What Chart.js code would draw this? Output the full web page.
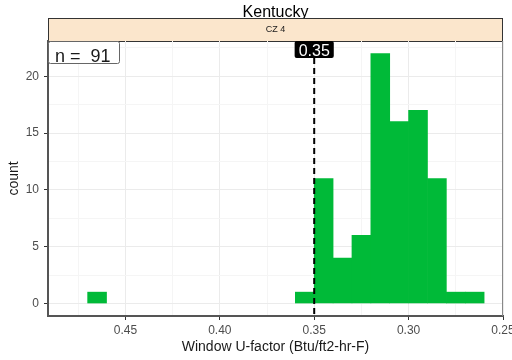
<!DOCTYPE html>
<html>
<head>
<meta charset="utf-8">
<script src="https://cdn.jsdelivr.net/npm/chart.js@4.4.1/dist/chart.umd.min.js"></script>
<style>
  body { margin: 0; background: #fff; }
</style>
</head>
<body>
<canvas id="chart" width="512" height="360"></canvas>
<script>
// histogram bins (centre of each 0.01 wide bin) and counts
const binCenters = [0.465, 0.355, 0.345, 0.335, 0.325, 0.315, 0.305, 0.295, 0.285, 0.275, 0.265];
const counts = [1, 1, 11, 4, 6, 22, 16, 17, 11, 1, 1];

const xTicks = [0.45, 0.40, 0.35, 0.30, 0.25];
const xMinor = [0.475, 0.425, 0.375, 0.325, 0.275];
const yTicks = [0, 5, 10, 15, 20];
const yMinor = [2.5, 7.5, 12.5, 17.5, 22.5];

const cutoff = 0.35;
const stateName = "Kentucky";
const stripLabel = "CZ 4";
const total = counts.reduce((a, b) => a + b, 0);

const FONT = "'Liberation Sans', Arial, sans-serif";

const decor = {
  id: "decor",
  beforeDraw(chart) {
    const ctx = chart.ctx;
    const a = chart.chartArea;
    ctx.save();
    // title
    ctx.fillStyle = "#000";
    ctx.font = "16px " + FONT;
    ctx.textAlign = "center";
    ctx.textBaseline = "alphabetic";
    ctx.fillText(stateName, (a.left + a.right) / 2, 16.5);
    // facet strip
    ctx.fillStyle = "#FBE6CC";
    ctx.fillRect(a.left, 18, a.right - a.left, a.top - 18);
    ctx.strokeStyle = "#333";
    ctx.lineWidth = 1;
    ctx.strokeRect(a.left + 0.5, 18.5, a.right - a.left - 1, a.top - 18);
    ctx.fillStyle = "#1A1A1A";
    ctx.font = "9px " + FONT;
    ctx.textBaseline = "middle";
    ctx.fillText(stripLabel, (a.left + a.right) / 2, 30);
    ctx.restore();
  },
  afterDatasetsDraw(chart) {
    const ctx = chart.ctx;
    const a = chart.chartArea;
    const x = chart.scales.x.getPixelForValue(cutoff);
    ctx.save();
    // right panel border
    ctx.strokeStyle = "#888";
    ctx.lineWidth = 1;
    ctx.beginPath();
    ctx.moveTo(a.right - 0.5, a.top);
    ctx.lineTo(a.right - 0.5, a.bottom);
    ctx.stroke();
    // cutoff line
    ctx.strokeStyle = "#000";
    ctx.lineWidth = 2;
    ctx.setLineDash([6, 4]);
    ctx.beginPath();
    ctx.moveTo(x, a.top + 17);
    ctx.lineTo(x, a.bottom);
    ctx.stroke();
    ctx.setLineDash([]);
    // cutoff label
    ctx.font = "16px " + FONT;
    const lbl = cutoff.toFixed(2);
    const w = ctx.measureText(lbl).width + 8;
    ctx.fillStyle = "#000";
    ctx.beginPath();
    ctx.roundRect(x - w / 2, a.top, w, 17, 2);
    ctx.fill();
    ctx.fillStyle = "#fff";
    ctx.textAlign = "center";
    ctx.textBaseline = "alphabetic";
    ctx.fillText(lbl, x, a.top + 15);
    // n label
    ctx.fillStyle = "#fff";
    ctx.strokeStyle = "#666";
    ctx.lineWidth = 1;
    ctx.beginPath();
    ctx.roundRect(a.left + 0.5, a.top + 0.5, 71, 22, 2);
    ctx.fill();
    ctx.stroke();
    ctx.fillStyle = "#1A1A1A";
    ctx.font = "18px " + FONT;
    ctx.textAlign = "left";
    ctx.fillText("n =  " + total, a.left + 7, a.top + 21);
    ctx.restore();
  }
};

const gridColor = (minor) => (ctx) =>
  ctx.tick && minor.includes(ctx.tick.value) ? "#F5F5F5" : "#EBEBEB";
const tickColor = (minor) => (ctx) =>
  ctx.tick && minor.includes(ctx.tick.value) ? "rgba(0,0,0,0)" : "#333";

new Chart(document.getElementById("chart"), {
  type: "bar",
  data: {
    datasets: [
      {
        data: binCenters.map((c, i) => ({ x: c, y: counts[i] })),
        backgroundColor: "#00BA38",
        borderWidth: 0,
        barPercentage: 1,
        categoryPercentage: 1,
      },
    ],
  },
  options: {
    responsive: false,
    animation: false,
    layout: { padding: { top: 41, right: 9, left: 0, bottom: 0 } },
    plugins: {
      legend: { display: false },
      tooltip: { enabled: false },
    },
    scales: {
      x: {
        type: "linear",
        reverse: true,
        offset: false,
        min: 0.25,
        max: 0.491,
        afterBuildTicks: (scale) => {
          scale.ticks = xTicks.concat(xMinor).map((v) => ({ value: v }));
        },
        afterFit: (scale) => { scale.height = 44; },
        ticks: {
          autoSkip: false,
          maxRotation: 0,
          padding: 3,
          color: "#4D4D4D",
          font: { family: FONT, size: 12 },
          callback: (v) => (xTicks.includes(v) ? v.toFixed(2) : ""),
        },
        grid: {
          offset: false,
          color: gridColor(xMinor),
          tickColor: tickColor(xMinor),
          tickLength: 4,
        },
        border: { color: "#555", width: 2 },
        title: {
          display: true,
          text: "Window U-factor (Btu/ft2-hr-F)",
          color: "#1A1A1A",
          font: { family: FONT, size: 14 },
          padding: { top: 0, bottom: 4 },
        },
      },
      y: {
        min: -1.1,
        max: 23.1,
        afterBuildTicks: (scale) => {
          scale.ticks = yTicks.concat(yMinor).map((v) => ({ value: v }));
        },
        afterFit: (scale) => { scale.width = 48; },
        ticks: {
          autoSkip: false,
          padding: 5,
          color: "#4D4D4D",
          font: { family: FONT, size: 12 },
          callback: (v) => (yTicks.includes(v) ? String(v) : ""),
        },
        grid: {
          color: gridColor(yMinor),
          tickColor: tickColor(yMinor),
          tickLength: 4,
        },
        border: { color: "#555", width: 2 },
        title: {
          display: true,
          text: "count",
          color: "#1A1A1A",
          font: { family: FONT, size: 14 },
          padding: { top: 6, bottom: 0 },
        },
      },
    },
  },
  plugins: [decor],
});
</script>
</body>
</html>
